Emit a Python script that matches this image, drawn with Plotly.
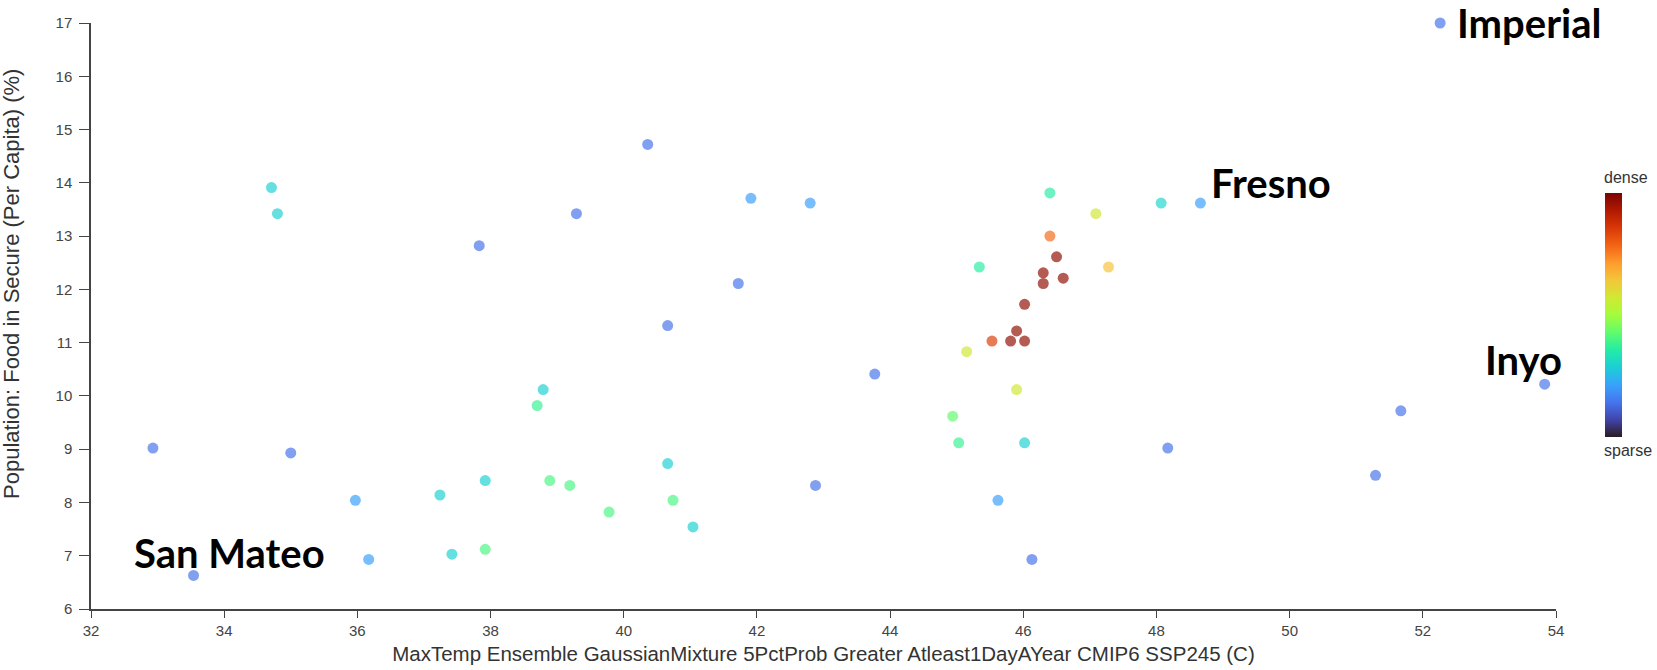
import plotly.graph_objects as go

# Data: (temperature C, food insecure %, density 0..1)
temp = [32.93, 33.54, 34.71, 34.80, 35.00, 35.97, 36.17, 37.24, 37.42, 37.83,
        37.92, 37.92, 38.70, 38.79, 38.89, 39.19, 39.29, 39.78, 40.36, 40.66,
        40.66, 40.74, 41.04, 41.72, 41.91, 42.88, 42.80, 43.77, 44.94, 45.03,
        45.15, 45.34, 45.53, 45.62, 45.81, 45.90, 45.90, 46.02, 46.02, 46.02,
        46.13, 46.30, 46.30, 46.40, 46.40, 46.50, 46.60, 47.09, 47.28, 48.07,
        48.66, 48.17, 51.29, 51.67, 53.83, 52.26]
food = [9.02, 6.63, 13.91, 13.42, 8.93, 8.04, 6.93, 8.14, 7.03, 12.82,
        8.41, 7.12, 9.82, 10.12, 8.41, 8.32, 13.42, 7.82, 14.72, 11.32,
        8.73, 8.04, 7.54, 12.11, 13.71, 8.32, 13.62, 10.41, 9.62, 9.12,
        10.83, 12.42, 11.03, 8.04, 11.03, 11.22, 10.12, 11.03, 11.72, 9.12,
        6.93, 12.31, 12.11, 13.00, 13.81, 12.61, 12.21, 13.42, 12.42, 13.62,
        13.62, 9.02, 8.51, 9.72, 10.22, 17.0]
density = [0.14, 0.14, 0.29, 0.29, 0.14, 0.21, 0.21, 0.29, 0.29, 0.14,
           0.29, 0.40, 0.38, 0.29, 0.40, 0.40, 0.14, 0.40, 0.14, 0.14,
           0.29, 0.40, 0.29, 0.14, 0.21, 0.14, 0.21, 0.14, 0.43, 0.38,
           0.57, 0.36, 0.85, 0.21, 0.97, 0.97, 0.57, 0.97, 0.97, 0.29,
           0.14, 0.97, 0.97, 0.78, 0.36, 0.97, 0.97, 0.57, 0.65, 0.30,
           0.21, 0.14, 0.14, 0.14, 0.14, 0.14]
county = [""] * len(temp)
county[1] = "San Mateo"
county[50] = "Fresno"
county[54] = "Inyo"
county[55] = "Imperial"

x_ticks = [32, 34, 36, 38, 40, 42, 44, 46, 48, 50, 52, 54]
y_ticks = [6, 7, 8, 9, 10, 11, 12, 13, 14, 15, 16, 17]

turbo = [[0.0, "#2a1a22"], [0.0714, "#4145ab"], [0.1429, "#4675ed"], [0.2143, "#39a2fc"],
         [0.2857, "#1bcfd4"], [0.3571, "#24eca6"], [0.4286, "#61fc6c"], [0.5, "#a4fc3b"],
         [0.5714, "#d1e834"], [0.6429, "#f3c63a"], [0.7143, "#fe9b2d"], [0.7857, "#f36315"],
         [0.8571, "#d93806"], [0.9286, "#b11901"], [1.0, "#7a0402"]]

fig = go.Figure()
fig.add_trace(go.Scatter(
    x=temp, y=food, mode="markers",
    marker=dict(size=11, color=density, colorscale=turbo, cmin=0, cmax=1,
                opacity=0.68, line=dict(width=0),
                colorbar=dict(thickness=17, len=244, lenmode="pixels",
                              x=1.0335, xanchor="left", xpad=0,
                              y=0.5017, yanchor="middle", ypad=0,
                              outlinewidth=0, showticklabels=False, ticks="")),
    cliponaxis=False, showlegend=False, hoverinfo="x+y+text", text=county))

label_font = dict(family="Lato", size=40, color="black", weight="bold")
fig.add_annotation(x=temp[1], y=food[1], text="<b>San Mateo</b>", showarrow=False,
                   xanchor="left", yanchor="middle", xshift=-62, yshift=22, font=label_font)
fig.add_annotation(x=temp[50], y=food[50], text="<b>Fresno</b>", showarrow=False,
                   xanchor="left", yanchor="middle", xshift=9, yshift=20, font=label_font)
fig.add_annotation(x=temp[54], y=food[54], text="<b>Inyo</b>", showarrow=False,
                   xanchor="right", yanchor="middle", xshift=19, yshift=24, font=label_font)
fig.add_annotation(x=temp[55], y=food[55], text="<b>Imperial</b>", showarrow=False,
                   xanchor="left", yanchor="middle", xshift=15, yshift=0, font=label_font)

small = dict(family="Liberation Sans", size=16, color="#333")
cb_top = 0.5017 + 244 / 2 / 586
cb_bot = 0.5017 - 244 / 2 / 586
fig.add_annotation(xref="paper", yref="paper", x=1.0335, y=cb_top,
                   text="dense", showarrow=False, xanchor="left", yanchor="bottom",
                   xshift=-3, yshift=5, font=small)
fig.add_annotation(xref="paper", yref="paper", x=1.0335, y=cb_bot,
                   text="sparse", showarrow=False, xanchor="left", yanchor="top",
                   xshift=-3, yshift=-3, font=small)

# y-axis title drawn as a rotated annotation so its position can be matched
fig.add_annotation(xref="paper", yref="paper", x=0, y=0.5, xanchor="center", yanchor="middle",
                   xshift=-80, yshift=32, textangle=-90, showarrow=False,
                   text="Population: Food in Secure (Per Capita) (%)",
                   font=dict(family="Liberation Sans", size=22, color="#333"))

axis_common = dict(showgrid=False, zeroline=False, showline=True, linecolor="#444",
                   linewidth=1.5, ticks="outside", tickcolor="#444",
                   tickfont=dict(family="Liberation Sans", size=15, color="#444"),
                   mirror=False)
fig.update_xaxes(range=[32, 54], tickvals=x_ticks, ticklen=7,
                 title=dict(text="MaxTemp Ensemble GaussianMixture 5PctProb Greater Atleast1DayAYear CMIP6 SSP245 (C)",
                            font=dict(family="Liberation Sans", size=20.5, color="#333"), standoff=9),
                 **axis_common)
fig.update_yaxes(range=[6, 17], tickvals=y_ticks, ticklen=10, ticklabelstandoff=4,
                 **axis_common)

fig.update_layout(width=1657, height=670, plot_bgcolor="white", paper_bgcolor="white",
                  margin=dict(l=91, r=101, t=23, b=61, autoexpand=False))
# remove the browser's default 8px body margin so the figure fills the window exactly
fig.write_html("out.html", config={"displayModeBar": False},
               post_script="document.body.style.margin='0';")
